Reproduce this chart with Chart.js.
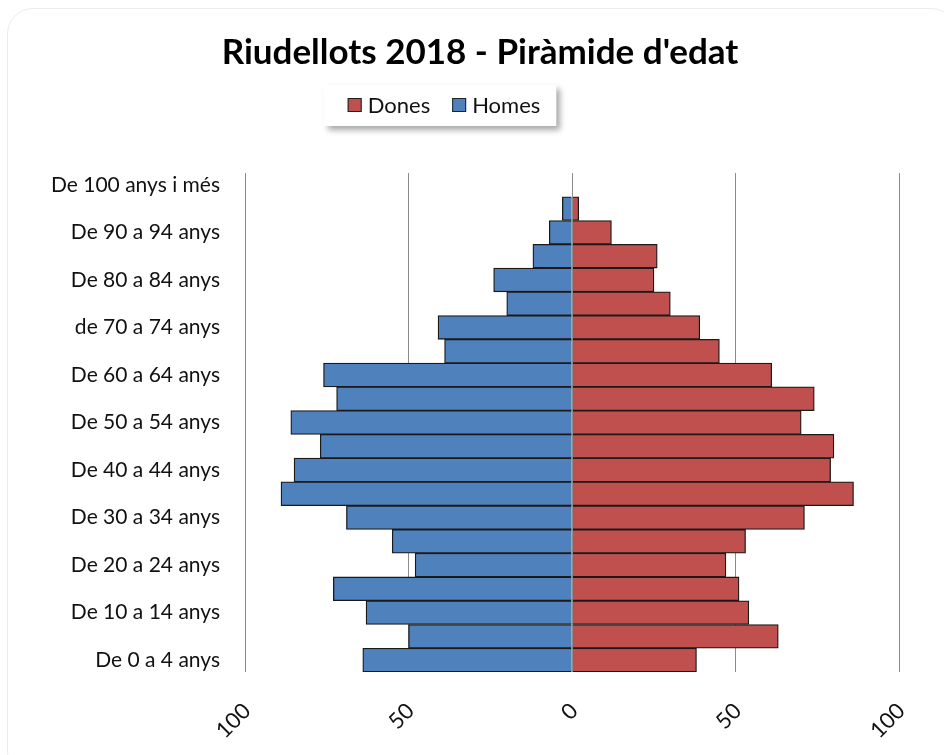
<!DOCTYPE html>
<html>
<head>
<meta charset="utf-8">
<script src="https://cdn.jsdelivr.net/npm/chart.js@4.4.1/dist/chart.umd.min.js"></script>
<style>
  html, body { margin: 0; padding: 0; background: #ffffff; overflow: hidden; }
  #card { position: absolute; left: 7px; top: 8px; width: 950px; height: 770px; border: 1.5px solid #ececec; border-radius: 26px; box-sizing: border-box; }
  #wrap { position: absolute; left: 0; top: 0; width: 944px; height: 755px; }
</style>
</head>
<body>
<div id="card"></div>
<div id="wrap"><canvas id="c"></canvas></div>
<script>
const chartTitle = "Riudellots 2018 - Piràmide d'edat";
const categories = [
  "De 0 a 4 anys", "De 5 a 9 anys", "De 10 a 14 anys", "De 15 a 19 anys",
  "De 20 a 24 anys", "De 25 a 29 anys", "De 30 a 34 anys", "De 35 a 39 anys",
  "De 40 a 44 anys", "De 45 a 49 anys", "De 50 a 54 anys", "De 55 a 59 anys",
  "De 60 a 64 anys", "De 65 a 69 anys", "de 70 a 74 anys", "De 75 a 79 anys",
  "De 80 a 84 anys", "De 85 a 89 anys", "De 90 a 94 anys", "De 95 a 99 anys",
  "De 100 anys i més"
];
const dones = [38, 63, 54, 51, 47, 53, 71, 86, 79, 80, 70, 74, 61, 45, 39, 30, 25, 26, 12, 2, 0];
const homes = [64, 50, 63, 73, 48, 55, 69, 89, 85, 77, 86, 72, 76, 39, 41, 20, 24, 12, 7, 3, 0];
const xTicks = [-100, -50, 0, 50, 100];

const FONT = "Lato";
const TEXT = "#111111";

const legendPlugin = {
  id: 'boxLegend',
  afterLayout(chart) {
    if (chart.titleBlock) chart.titleBlock.left += 30;
  },
  afterDraw(chart) {
    const ctx = chart.ctx;
    const ds = chart.data.datasets;
    ctx.save();
    ctx.font = "22px " + FONT;
    const sq = 14, gapT = 6, gapI = 22;
    let total = 0;
    ds.forEach((d, i) => { total += sq + gapT + ctx.measureText(d.label).width + (i < ds.length - 1 ? gapI : 0); });
    const cx = 444, cy = 105;
    const boxL = cx - total / 2 - 24, boxR = cx + total / 2 + 16;
    ctx.shadowColor = 'rgba(0,0,0,0.35)';
    ctx.shadowBlur = 6;
    ctx.shadowOffsetX = 4;
    ctx.shadowOffsetY = 4;
    ctx.fillStyle = '#ffffff';
    ctx.fillRect(boxL, 85, boxR - boxL, 41);
    ctx.shadowColor = 'transparent';
    let x = cx - total / 2;
    ds.forEach((d) => {
      ctx.fillStyle = d.backgroundColor;
      ctx.fillRect(x, cy - sq / 2, sq, sq);
      ctx.strokeStyle = '#222';
      ctx.lineWidth = 1;
      ctx.strokeRect(x + 0.5, cy - sq / 2 + 0.5, sq - 1, sq - 1);
      x += sq + gapT;
      ctx.fillStyle = TEXT;
      ctx.textBaseline = 'middle';
      ctx.textAlign = 'left';
      ctx.fillText(d.label, x, cy + 1);
      x += ctx.measureText(d.label).width + gapI;
    });
    ctx.restore();
  }
};

const zeroLine = {
  id: 'zeroLine',
  afterDatasetsDraw(chart) {
    const ctx = chart.ctx, a = chart.chartArea;
    const x0 = chart.scales.x.getPixelForValue(0);
    ctx.save();
    ctx.strokeStyle = '#8c8c8c';
    ctx.lineWidth = 1;
    ctx.beginPath();
    ctx.moveTo(Math.round(x0) + 0.5, a.top);
    ctx.lineTo(Math.round(x0) + 0.5, a.bottom);
    ctx.stroke();
    ctx.restore();
  }
};

new Chart(document.getElementById('c'), {
  type: 'bar',
  data: {
    labels: categories,
    datasets: [
      { label: 'Dones', data: dones, backgroundColor: '#C0504D', borderColor: '#1a1a1a', borderWidth: 1.3, borderSkipped: 'start', barPercentage: 1, categoryPercentage: 1 },
      { label: 'Homes', data: homes.map(v => -v), backgroundColor: '#4F81BD', borderColor: '#1a1a1a', borderWidth: 1.3, borderSkipped: 'start', barPercentage: 1, categoryPercentage: 1 }
    ]
  },
  options: {
    indexAxis: 'y',
    responsive: true,
    maintainAspectRatio: false,
    animation: false,
    layout: { padding: { left: 30, right: 44, top: 0, bottom: 0 } },
    plugins: {
      legend: { display: false },
      tooltip: { enabled: false },
      title: {
        display: true,
        text: chartTitle,
        color: '#000',
        font: { family: FONT, size: 35, weight: 'bold' },
        padding: { top: 32, bottom: 99 }
      }
    },
    scales: {
      x: {
        stacked: true,
        min: -100, max: 100,
        afterBuildTicks(scale) { scale.ticks = xTicks.map(v => ({ value: v })); },
        afterFit(scale) { scale.height = 83; },
        grid: { color: '#8c8c8c', lineWidth: 1, drawTicks: false },
        border: { display: false },
        ticks: {
          minRotation: 45, maxRotation: 45,
          padding: 26,
          labelOffset: 2,
          color: TEXT,
          font: { family: FONT, size: 22 },
          callback: (v) => Math.abs(v)
        }
      },
      y: {
        stacked: true,
        reverse: true,
        afterFit(scale) { scale.width = 215; },
        grid: { display: false, drawTicks: false },
        border: { display: false },
        ticks: {
          autoSkip: false,
          padding: 25,
          color: TEXT,
          font: { family: FONT, size: 21 },
          callback: (v, i) => (i % 2 === 0 ? categories[i] : '')
        }
      }
    }
  },
  plugins: [legendPlugin, zeroLine]
});
</script>
</body>
</html>
